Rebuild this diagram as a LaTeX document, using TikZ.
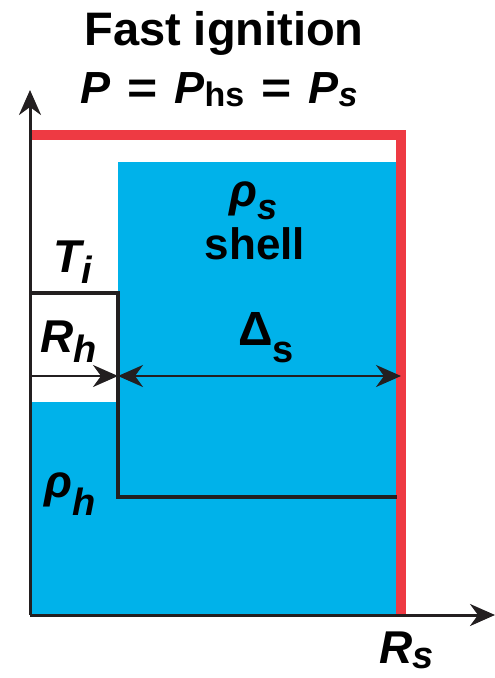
\documentclass[tikz,border=0pt]{standalone}
\usepackage{fontspec}
\setmainfont{Liberation Sans}
\usetikzlibrary{arrows.meta}

\definecolor{shellblue}{RGB}{0,178,234}
\definecolor{edgered}{RGB}{238,58,67}
\definecolor{inkblack}{RGB}{35,31,32}

\newcommand{\fs}[1]{\fontsize{#1}{#1}\selectfont}
\newcommand{\dn}[2]{\raisebox{-#1}{#2}}
\newcommand{\eqsign}{\hspace{17pt}\scalebox{1.15}[1]{=}\hspace{17pt}}

\begin{document}
\begin{tikzpicture}[x=1pt, y=-1pt,
    >={Stealth[length=25pt, width=22pt, inset=8pt]},
    axis/.style={line width=3pt, inkblack, ->},
    dim/.style={line width=2.5pt, inkblack},
    lbl/.style={inner sep=0pt, anchor=base west, font=\bfseries\itshape\fs{46}}]
    \useasboundingbox (0,0) rectangle (495,678);

    % Corners of the profile
    \coordinate (O) at (30,615);
    \coordinate (ytop) at (30,90);
    \coordinate (xend) at (495,615);
    \coordinate (hsTL) at (30,293);
    \coordinate (hsTR) at (118,293);
    \coordinate (hsBR) at (118,497);
    \coordinate (shR) at (397,497);
    \coordinate (redL) at (30,135);
    \coordinate (redC) at (401,135);
    \coordinate (redB) at (401,615);
    \coordinate (arL) at (30,376);
    \coordinate (arM) at (118,376);
    \coordinate (arR) at (401,376);

    % Density fill
    \fill[shellblue] (118,162) -- (401,162) -- (redB) -- (O) -- (30,402) -- (118,402) -- cycle;

    % Pressure
    \draw[edgered, line width=10.5pt] (redL) -- (redC) -- (redB);

    % Temperature step
    \draw[inkblack, line width=4.5pt] (hsTL) -- (hsTR) -- (hsBR) -- (shR);

    % Axes
    \draw[axis] (O) -- (ytop);
    \draw[axis] (O) -- (xend);

    % Radii
    \draw[dim, ->] (arL) -- (arM);
    \draw[dim, <->] (arM) -- (arR);

    % Labels
    \node[anchor=base, font=\bfseries\fs{47}] (title) at (224,45) {Fast ignition};
    \node[anchor=base west, inner sep=0pt, font=\bfseries\fs{45}] (pres) at (80,103)
        {\textit{P}\eqsign\textit{P}\dn{3pt}{\fs{34}hs}\eqsign\textit{P}\dn{3pt}{\fs{34}\textit{s}}};
    \node[lbl] (rhos) at (229,206) {ρ\dn{13pt}{\fs{36}s}};
    \node[anchor=base, inner sep=0pt, font=\bfseries\fs{44}] (shell) at (255,259) {shell};
    \node[lbl] (Ti) at (53,272) {T\dn{11pt}{\fs{38}i}};
    \node[lbl] (Rh) at (40,352) {R\dn{10pt}{\fs{38}h}};
    \node[lbl, font=\bfseries\fs{48}] (Ds) at (238,345) {Δ\dn{17pt}{\fs{38}s}};
    \node[lbl] (rhoh) at (44,497) {ρ\dn{18pt}{\fs{38}h}};
    \node[lbl] (Rs) at (379,663) {R\dn{5pt}{\fs{38}s}};
\end{tikzpicture}
\end{document}
